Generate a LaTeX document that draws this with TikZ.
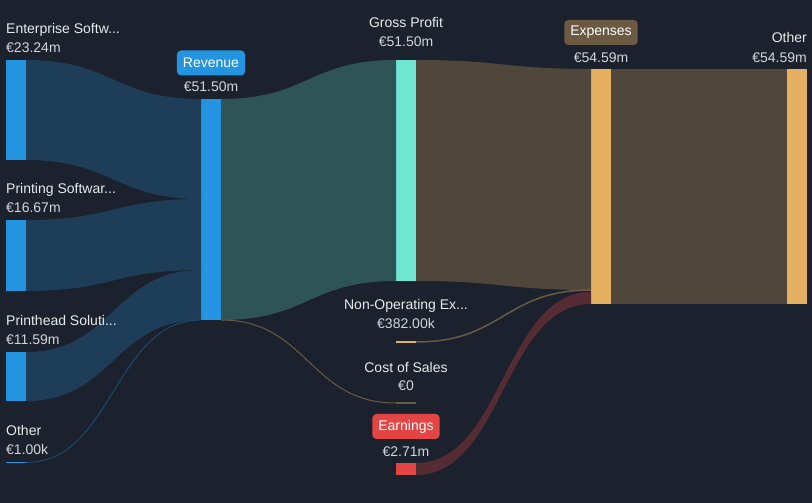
\documentclass[tikz,border=0pt]{standalone}
\usepackage{fontspec}
\setmainfont{Liberation Sans}
\usetikzlibrary{calc,positioning}
\definecolor{bg}{HTML}{1B212D}
\definecolor{barblue}{HTML}{2394DF}
\definecolor{srcflow}{HTML}{1D3D58}
\definecolor{revflow}{HTML}{2F5457}
\definecolor{gpteal}{HTML}{6EE6D2}
\definecolor{expflow}{HTML}{4F473B}
\definecolor{expgold}{HTML}{E6B062}
\definecolor{exppill}{HTML}{6B5942}
\definecolor{ernred}{HTML}{E34444}
\definecolor{ernflow}{HTML}{552C33}
\definecolor{thinbrown}{HTML}{6B5A43}
\definecolor{thinblue}{HTML}{1D4A70}
\definecolor{txt}{HTML}{E8EAEC}
\definecolor{valtxt}{HTML}{D2D5D9}
\newcommand{\trunc}{...}
\newcommand{\band}[5]{\fill[#1] (#2) .. controls +(87,0) and +(-87,0) .. (#3) -- (#5) .. controls +(-87,0) and +(87,0) .. (#4) -- cycle;}

\begin{document}
\begin{tikzpicture}[x=1pt,y=1pt,
  bar/.style={rectangle,draw=none,minimum width=20pt,inner sep=0pt,outer sep=0pt},
  lbl/.style={text=txt,inner sep=0pt,font=\fontsize{14}{16}\selectfont},
  val/.style={text=valtxt,inner sep=0pt,font=\fontsize{14}{16}\selectfont},
  pill/.style={text=white,rounded corners=4pt,inner xsep=6pt,inner ysep=0pt,minimum height=25pt,font=\fontsize{14}{16}\selectfont}]
\fill[bg] (0,0) rectangle (812,503);
\node[bar,fill=barblue,minimum height=100pt] (ent) at (16,393) {};
\node[bar,fill=barblue,minimum height=71pt] (prt) at (16,247.5) {};
\node[bar,fill=barblue,minimum height=49pt] (phd) at (16,126.5) {};
\node[bar,fill=barblue,minimum height=1.5pt] (oth) at (16,40.5) {};
\node[bar,fill=barblue,minimum height=221pt] (rev) at (211,293.5) {};
\node[bar,fill=gpteal,minimum height=221pt] (gp) at (406,332.5) {};
\node[bar,fill=expgold,minimum height=2pt] (nop) at (406,161) {};
\node[bar,fill=thinbrown,minimum height=1.5pt] (cos) at (406,100) {};
\node[bar,fill=ernred,minimum height=12pt] (ern) at (406,34) {};
\node[bar,fill=expgold,minimum height=235pt] (exp) at (601,316.5) {};
\node[bar,fill=expgold,minimum height=235pt] (oex) at (797,316.5) {};
\coordinate (rev1) at ($(rev.north west)+(0,-100)$);
\coordinate (rev2) at ($(rev.north west)+(0,-171)$);
\coordinate (exp1) at ($(exp.north west)+(0,-221)$);
\coordinate (exp2) at ($(exp.north west)+(0,-223)$);
\band{srcflow}{ent.north east}{rev.north west}{ent.south east}{rev1}
\band{srcflow}{prt.north east}{rev1}{prt.south east}{rev2}
\band{srcflow}{phd.north east}{rev2}{phd.south east}{rev.south west}
\band{revflow}{rev.north east}{gp.north west}{rev.south east}{gp.south west}
\band{expflow}{gp.north east}{exp.north west}{gp.south east}{exp1}
\band{ernflow}{ern.north east}{exp2}{ern.south east}{exp.south west}
\fill[expflow] (exp.north east) rectangle (oex.south west);
\draw[thinblue,line width=1pt] (oth.east) .. controls +(87,0) and +(-87,0) .. (rev.south west);
\draw[thinbrown,line width=1pt] (rev.south east) .. controls +(87,0) and +(-87,0) .. (cos.west);
\draw[thinbrown,line width=1.5pt] (nop.east) .. controls +(87,0) and +(-87,0) .. (exp1);
\foreach \b/\n/\v in {ent/Enterprise Softw\trunc/€23.24m,prt/Printing Softwar\trunc/€16.67m,phd/Printhead Soluti\trunc/€11.59m,oth/Other/€1.00k}{
  \node[val,anchor=base west] (\b-v) at ($(\b.north west)+(0,7)$) {\v};
  \node[lbl,anchor=base west] at ($(\b-v.base west)+(0,19)$) {\n};
}
\node[val,anchor=base] (rev-v) at ($(rev.north)+(0,7)$) {€51.50m};
\node[pill,fill=barblue] at ($(rev-v.base)+(0,29)$) {Revenue};
\node[val,anchor=base] (gp-v) at ($(gp.north)+(0,13)$) {€51.50m};
\node[lbl,anchor=base] at ($(gp-v.base)+(0,19)$) {Gross Profit};
\node[val,anchor=base] (nop-v) at ($(nop.north)+(0,12)$) {€382.00k};
\node[lbl,anchor=base] at ($(nop-v.base)+(0,19)$) {Non-Operating Ex\trunc};
\node[val,anchor=base] (cos-v) at ($(cos.north)+(0,12)$) {€0};
\node[lbl,anchor=base] at ($(cos-v.base)+(0,18)$) {Cost of Sales};
\node[val,anchor=base] (ern-v) at ($(ern.north)+(0,6)$) {€2.71m};
\node[pill,fill=ernred] at ($(ern-v.base)+(0,30.5)$) {Earnings};
\node[val,anchor=base] (exp-v) at ($(exp.north)+(0,6)$) {€54.59m};
\node[pill,fill=exppill] at ($(exp-v.base)+(0,30.5)$) {Expenses};
\node[val,anchor=base east] (oex-v) at ($(oex.north east)+(0,6)$) {€54.59m};
\node[lbl,anchor=base east] at ($(oex-v.base east)+(0,20)$) {Other};
\end{tikzpicture}
\end{document}
